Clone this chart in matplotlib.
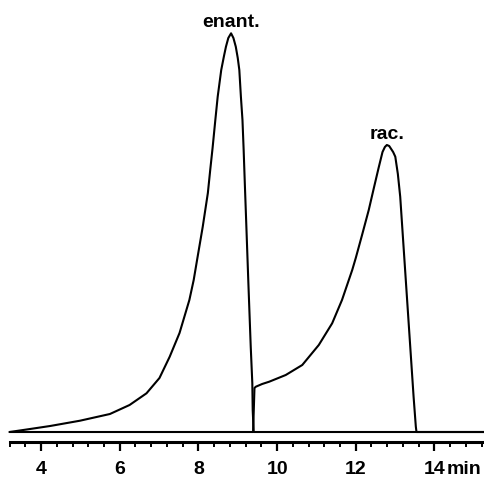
import numpy as np
import matplotlib
matplotlib.use("Agg")
import matplotlib.pyplot as plt

# ---- data (retention time in min, detector signal in arbitrary units) ----
enant_time = [3.20, 3.72, 4.23, 4.99, 5.75, 6.25, 6.68, 7.01, 7.27, 7.52, 7.77,
              7.88, 7.98, 8.11, 8.24, 8.30, 8.36, 8.43, 8.49, 8.58, 8.65, 8.70,
              8.76, 8.83, 8.89, 8.95, 9.00, 9.04, 9.08, 9.12, 9.15, 9.18, 9.21,
              9.27, 9.33, 9.37, 9.38, 9.405, 15.26]
enant_signal = [0, 3, 6, 11.3, 18, 27, 38.7, 54, 75.3, 99, 132,
                152, 175.3, 205.3, 239, 262, 284, 312, 335.3, 362, 376, 385.3,
                394, 398.7, 394, 385.3, 374, 362, 335.3, 312, 282, 248, 215.3,
                149, 85.3, 49, 22, 0, 0]

rac_time = [3.20, 9.39, 9.425, 9.46, 9.62, 9.80, 10.22, 10.64, 11.06, 11.40, 11.65,
            11.91, 12.00, 12.16, 12.33, 12.46, 12.58, 12.68, 12.74, 12.79, 12.85,
            12.90, 12.95, 13.005, 13.07, 13.13, 13.215, 13.30, 13.385, 13.47,
            13.527, 13.544, 15.26]
rac_signal = [0, 0, 44, 45.3, 48, 50.3, 57, 67, 87, 108.7, 132,
              162, 174, 197, 222, 244, 264, 280, 285, 287, 286,
              283, 280, 275.3, 258, 235.3, 185.3, 135.3, 85.3, 35.3,
              5.3, 0, 0]

major_ticks = [4, 6, 8, 10, 12, 14]
tick_labels = ["4", "6", "8", "10", "12", "14"]
minor_step = 0.4
x_range = (3.2, 15.26)
peak_names = ["enant.", "rac."]
time_unit = "min"

# ---- figure ----
W, H = 484, 478
fig = plt.figure(figsize=(W / 100, H / 100), dpi=100)
ax = fig.add_axes([9.6 / W, 36 / H, (W - 9.6) / W, 442 / H])

font = dict(family=["Liberation Sans", "DejaVu Sans"], weight="bold", size=14)

for t, s in [(enant_time, enant_signal), (rac_time, rac_signal)]:
    ax.plot(t, s, color="black", lw=1.5, solid_joinstyle="round",
            solid_capstyle="round", clip_on=False)

ax.set_xlim(*x_range)
ax.set_ylim(-10, 432)

for side in ["left", "right", "top"]:
    ax.spines[side].set_visible(False)
ax.spines["bottom"].set_linewidth(2.2)
ax.yaxis.set_visible(False)

ax.set_xticks(major_ticks)
ax.set_xticklabels(tick_labels, fontdict=font)
ax.set_xticks(np.arange(x_range[0], x_range[1] + 1e-6, minor_step), minor=True)
ax.tick_params(axis="x", which="major", direction="out", length=6.5, width=1.6,
               pad=7.4)
ax.tick_params(axis="x", which="minor", direction="out", length=3.5, width=1.4)

# time unit next to the last tick label
ax.annotate(time_unit, xy=(major_ticks[-1], 0), xycoords=("data", "axes fraction"),
            xytext=(8.6, -23.0), textcoords="offset points",
            ha="left", va="baseline", **font)

# peak labels
for name, t, s in [(peak_names[0], enant_time, enant_signal),
                   (peak_names[1], rac_time, rac_signal)]:
    i = int(np.argmax(s))
    ax.annotate(name, xy=(t[i], s[i]), xytext=(0, 4.5), textcoords="offset points",
                ha="center", va="baseline", **font)

fig.savefig("out.png", dpi=100)
